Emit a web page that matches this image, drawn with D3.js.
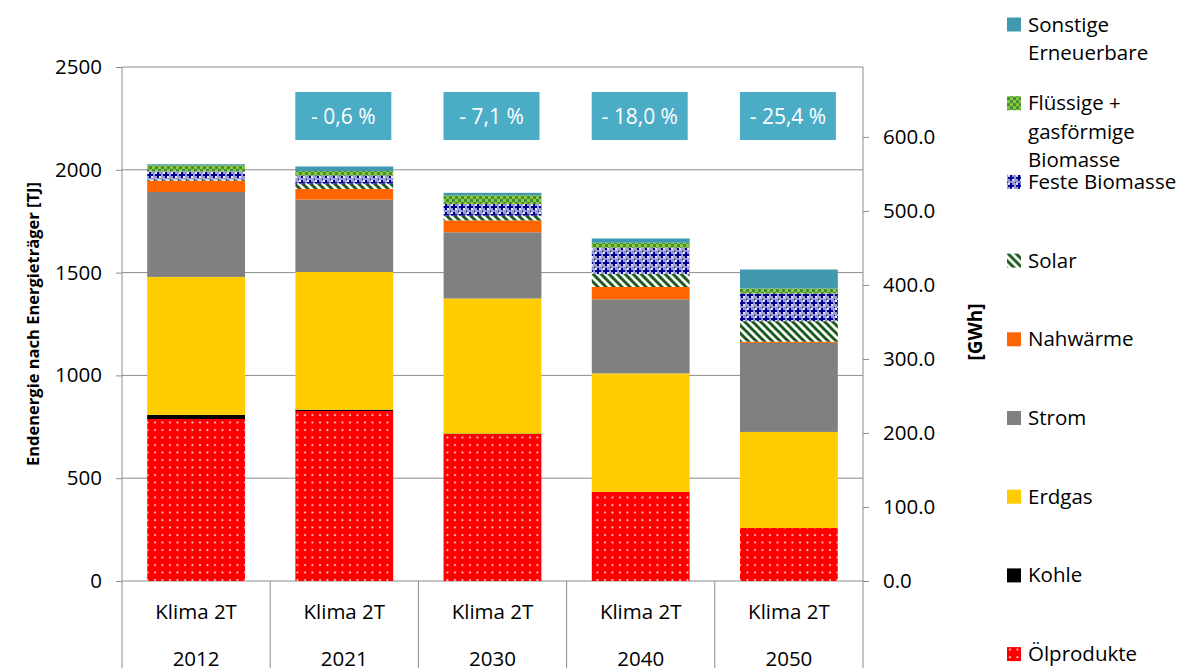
<!DOCTYPE html>
<html>
<head>
<meta charset="utf-8">
<script src="https://cdn.jsdelivr.net/npm/d3@7"></script>
<style>
  body { margin: 0; background: #fff; }
  text { font-family: "Open Sans", "Noto Sans", sans-serif; fill: #000; }
</style>
</head>
<body>
<script>
// categories
let years = ["2012", "2021", "2030", "2040", "2050"];
let scenario = "Klima 2T";
let changeLabels = ["", "- 0,6 %", "- 7,1 %", "- 18,0 %", "- 25,4 %"];

// series values in TJ
let oel       = [788, 827, 715, 433, 258];
let kohle     = [20, 6, 2, 0, 0];
let erdgas    = [671, 670, 657, 577, 467];
let strom     = [413, 352, 322, 360, 433];
let nahwaerme = [55, 52, 58, 60, 6];
let solar     = [5, 26, 23, 63, 100];
let festeBio  = [40, 39, 57, 128, 135];
let fluessBio = [30, 22, 42, 24, 24];
let sonstige  = [5, 22, 12, 21, 92];

let leftTicks = [0, 500, 1000, 1500, 2000, 2500];
let rightTicks = [0, 100, 200, 300, 400, 500, 600];

let series = [
  {key: "Ölprodukte", values: oel, fill: "url(#pOel)"},
  {key: "Kohle", values: kohle, fill: "#000000"},
  {key: "Erdgas", values: erdgas, fill: "#FFCC00"},
  {key: "Strom", values: strom, fill: "#808080"},
  {key: "Nahwärme", values: nahwaerme, fill: "#FF6600"},
  {key: "Solar", values: solar, fill: "url(#pSolar)"},
  {key: "Feste Biomasse", values: festeBio, fill: "url(#pFeste)"},
  {key: "Flüssige + gasförmige Biomasse", values: fluessBio, fill: "url(#pFluess)", lines: ["Flüssige +", "gasförmige", "Biomasse"]},
  {key: "Sonstige Erneuerbare", values: sonstige, fill: "#4198AF", lines: ["Sonstige", "Erneuerbare"]}
];

let W = 1187, H = 668;
let margin = {top: 67, left: 122, right: 324, bottom: 87};
let plotW = W - margin.left - margin.right;
let plotH = H - margin.top - margin.bottom;
let fs = "20.5px";

let svg = d3.select("body").append("svg")
  .attr("width", W)
  .attr("height", H);

// patterns
let defs = svg.append("defs");

let pOel = defs.append("pattern").attr("id", "pOel")
  .attr("patternUnits", "userSpaceOnUse").attr("width", 7.5).attr("height", 7.5);
pOel.append("rect").attr("width", 7.5).attr("height", 7.5).attr("fill", "#FF0000");
pOel.append("circle").attr("cx", 3).attr("cy", 3).attr("r", 1).attr("fill", "#fff");

let pSolar = defs.append("pattern").attr("id", "pSolar")
  .attr("patternUnits", "userSpaceOnUse").attr("width", 8).attr("height", 8);
pSolar.append("rect").attr("width", 8).attr("height", 8).attr("fill", "#fff");
pSolar.append("path").attr("d", "M-2,-2 L10,10 M-2,6 L2,10 M6,-2 L10,2")
  .attr("stroke", "#1D5A1D").attr("stroke-width", 3);

let pFeste = defs.append("pattern").attr("id", "pFeste")
  .attr("patternUnits", "userSpaceOnUse").attr("width", 8).attr("height", 8);
pFeste.append("rect").attr("width", 8).attr("height", 8).attr("fill", "#9C9CD4");
pFeste.append("rect").attr("x", 1).attr("y", 1).attr("width", 2).attr("height", 2).attr("fill", "#E8E8F8");
pFeste.append("rect").attr("x", 5).attr("y", 5).attr("width", 2).attr("height", 2).attr("fill", "#E8E8F8");
pFeste.append("path").attr("d", "M3,1 h2 v2 h2 v2 h-2 v2 h-2 v-2 h-2 v-2 h2 z")
  .attr("fill", "#000090");
pFeste.append("rect").attr("x", 0).attr("y", 0).attr("width", 1).attr("height", 1).attr("fill", "#000090");

let pFluess = defs.append("pattern").attr("id", "pFluess")
  .attr("patternUnits", "userSpaceOnUse").attr("width", 6).attr("height", 6);
pFluess.append("rect").attr("width", 6).attr("height", 6).attr("fill", "#92C83E");
pFluess.append("rect").attr("width", 3).attr("height", 3).attr("fill", "#3F8F3A");
pFluess.append("rect").attr("x", 3).attr("y", 3).attr("width", 3).attr("height", 3).attr("fill", "#3F8F3A");

let g = svg.append("g")
  .attr("transform", "translate(" + margin.left + "," + margin.top + ")");

// scales
let x = d3.scaleBand().domain(years).range([0, plotW]).paddingInner(0.34).paddingOuter(0.17);
let xCat = d3.scaleBand().domain(years).range([0, plotW]);
let y = d3.scaleLinear().domain([0, 2500]).range([plotH, 0]);
let yR = d3.scaleLinear().domain([0, 2500 / 3.6]).range([plotH, 0]);

let gridColor = "#8C8C8C";

// gridlines
g.append("g").selectAll("line")
  .data(leftTicks)
  .join("line")
  .attr("x1", 0).attr("x2", plotW)
  .attr("y1", d => y(d)).attr("y2", d => y(d))
  .attr("stroke", gridColor).attr("stroke-width", 1);

// stacked bars
let table = years.map((yr, i) => {
  let row = {year: yr};
  series.forEach(s => { row[s.key] = s.values[i]; });
  return row;
});
let stack = d3.stack().keys(series.map(s => s.key));
let layers = stack(table);

g.append("g").selectAll("g")
  .data(layers)
  .join("g")
  .attr("fill", (d, i) => series[i].fill)
  .selectAll("rect")
  .data(d => d)
  .join("rect")
  .attr("x", d => x(d.data.year))
  .attr("width", x.bandwidth())
  .attr("y", d => y(d[1]))
  .attr("height", d => y(d[0]) - y(d[1]));

// left axis
let axL = g.append("g")
  .call(d3.axisLeft(y).tickValues(leftTicks).tickSize(6).tickPadding(14).tickFormat(d3.format("d")));
// right axis
let axR = g.append("g")
  .attr("transform", "translate(" + plotW + ",0)")
  .call(d3.axisRight(yR).tickValues(rightTicks).tickSize(6).tickPadding(14).tickFormat(d3.format(".1f")));

[axL, axR].forEach(a => {
  a.select(".domain").attr("stroke", gridColor).attr("d", null);
  a.selectAll(".tick line").attr("stroke", gridColor);
  a.selectAll(".tick text").style("font-size", fs).attr("fill", "#000");
});
axL.append("line").attr("x1", 0).attr("x2", 0).attr("y1", 0).attr("y2", plotH).attr("stroke", gridColor);
axR.append("line").attr("x1", 0).attr("x2", 0).attr("y1", 0).attr("y2", plotH).attr("stroke", gridColor);

// category axis (two levels)
let bounds = years.map(d => xCat(d)).concat([plotW]);
g.append("g").selectAll("line")
  .data(bounds)
  .join("line")
  .attr("x1", d => d).attr("x2", d => d)
  .attr("y1", plotH).attr("y2", H - margin.top)
  .attr("stroke", gridColor);

g.append("g").selectAll("text")
  .data(years)
  .join("text")
  .attr("x", d => xCat(d) + xCat.bandwidth() / 2)
  .attr("y", plotH + 38)
  .attr("text-anchor", "middle")
  .style("font-size", fs)
  .text(scenario);

g.append("g").selectAll("text")
  .data(years)
  .join("text")
  .attr("x", d => xCat(d) + xCat.bandwidth() / 2)
  .attr("y", plotH + 85)
  .attr("text-anchor", "middle")
  .style("font-size", fs)
  .text(d => d);

// change boxes
let boxes = g.append("g").selectAll("g")
  .data(years.map((d, i) => ({year: d, label: changeLabels[i]})).filter(d => d.label))
  .join("g")
  .attr("transform", d => "translate(" + (xCat(d.year) + xCat.bandwidth() / 2 - 1) + "," + (92 - margin.top) + ")");
boxes.append("rect")
  .attr("x", -48).attr("width", 96)
  .attr("height", 48)
  .attr("fill", "#4BACC6");
boxes.append("text")
  .attr("y", 32)
  .attr("text-anchor", "middle")
  .style("font-size", "21px")
  .style("fill", "#fff")
  .text(d => d.label);

// axis titles
svg.append("text")
  .attr("transform", "translate(39," + (margin.top + plotH / 2) + ") rotate(-90)")
  .attr("text-anchor", "middle")
  .style("font-size", "16.5px")
  .style("font-weight", "bold")
  .text("Endenergie nach Energieträger [TJ]");

svg.append("text")
  .attr("transform", "translate(982,332) rotate(-90)")
  .attr("text-anchor", "middle")
  .style("font-size", "19px")
  .style("font-weight", "bold")
  .text("[GWh]");

// legend (top to bottom = reverse stack order)
let legendItems = series.slice().reverse();
let legend = svg.append("g").selectAll("g")
  .data(legendItems)
  .join("g")
  .attr("transform", (d, i) => "translate(1007," + (24.5 + i * 78.7) + ")");
legend.append("rect")
  .attr("y", -7).attr("width", 14).attr("height", 14)
  .attr("fill", d => d.fill);
legend.append("text")
  .attr("x", 21)
  .style("font-size", fs)
  .selectAll("tspan")
  .data(d => d.lines || [d.key])
  .join("tspan")
  .attr("x", 21)
  .attr("y", (d, i) => 7 + i * 28.5)
  .text(d => d);
</script>
</body>
</html>
